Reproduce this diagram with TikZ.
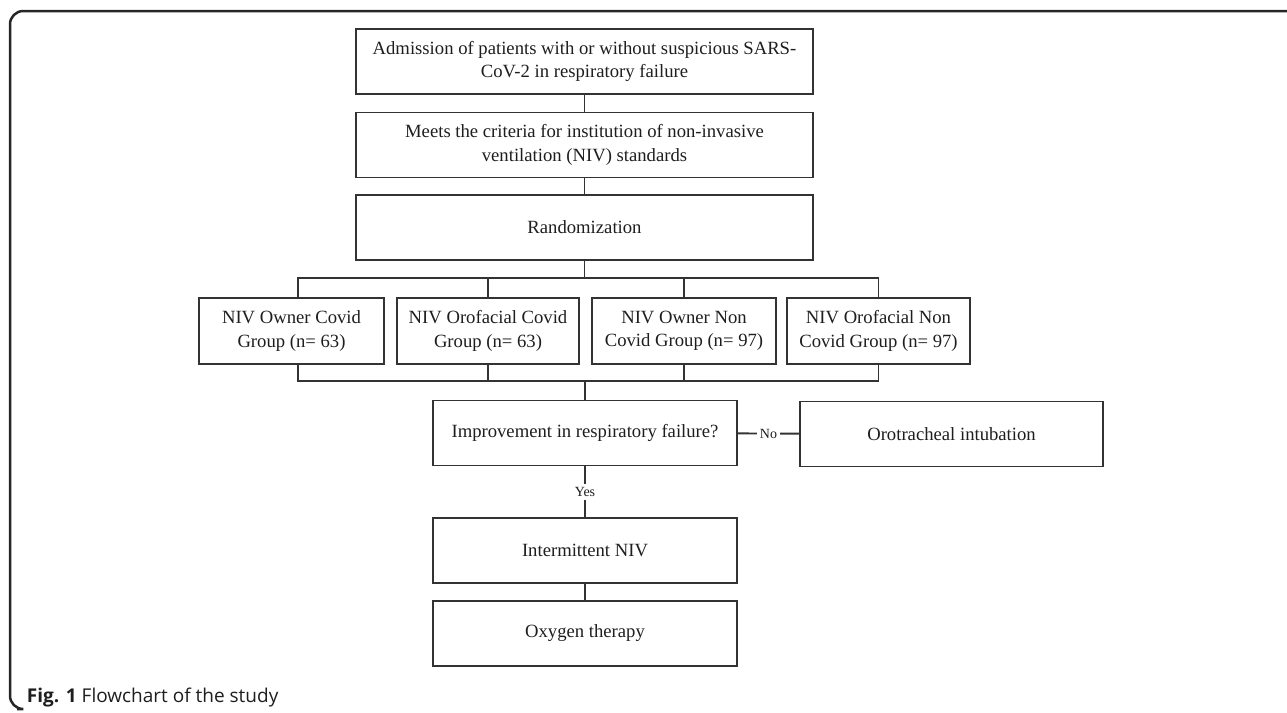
\documentclass[tikz,border=0pt]{standalone}
\usepackage{fontspec}
\setmainfont{Liberation Serif}
\newfontfamily\capfont{Open Sans}
\usetikzlibrary{calc}
\definecolor{boxline}{HTML}{333333}
\definecolor{ink}{HTML}{1E1E1E}

\begin{document}
\begin{tikzpicture}[x=0.6pt, y=-0.6pt, line width=1.15pt, draw=boxline, text=ink,
  every node/.style = {shape=rectangle, draw=boxline, line width=1.15pt, align=center, inner sep=0pt,
    font=\fontsize{11.2}{14}\selectfont},
  wide/.style = {minimum width=457*0.6pt, minimum height=65*0.6pt},
  grp/.style = {minimum width=184*0.6pt, minimum height=66*0.6pt},
  mid/.style = {minimum width=304*0.6pt, minimum height=65*0.6pt},
  lbl/.style = {draw=none, fill=white, inner sep=2pt, font=\fontsize{8.4}{10}\selectfont}]

  \useasboundingbox (0,0) rectangle (1287,712);

  \draw[line width=1.5pt, draw=black!85, rounded corners=8] (1290,11) -- (10,11) -- (10,709) -- (17,709);

  \node[wide] (adm) at (584.5,61.5) {Admission of patients with or without suspicious SARS-\\CoV-2 in respiratory failure};
  \node[wide] (crit) at (584.5,145) {Meets the criteria for institution of non-invasive\\ventilation (NIV) standards};
  \node[wide] (rand) at (584.5,227.5) {Randomization};

  \node[grp, minimum width=185*0.6pt] (grpA) at (291.5,331) {NIV Owner Covid\\Group (n= 63)};
  \node[grp, minimum width=182*0.6pt] (grpB) at (488,331) {NIV Orofacial Covid\\Group (n= 63)};
  \node[grp] (grpC) at (684,331) {NIV Owner Non\\Covid Group (n= 97)};
  \node[grp, minimum width=183*0.6pt] (grpD) at (878.5,331) {NIV Orofacial Non\\Covid Group (n= 97)};

  \node[mid] (impr) at (585,433) {Improvement in respiratory failure?};
  \node[mid, minimum width=303*0.6pt] (orot) at (951.5,434) {Orotracheal intubation};
  \node[mid] (inter) at (585,550.5) {Intermittent NIV};
  \node[mid] (oxy) at (585,633.5) {Oxygen therapy};

  \coordinate (topL) at (298,278);
  \coordinate (topR) at (878.5,278);
  \coordinate (botL) at (298,381);
  \coordinate (botR) at (878.5,381);

  \draw (adm) -- (crit);
  \draw (crit) -- (rand);
  \draw (rand.south) -- (rand.south |- topL);
  \draw (topL |- grpA.north) -- (topL) -- (topR) -- (grpD.north);
  \draw (grpB.north) -- (grpB.north |- topL);
  \draw (grpC.north) -- (grpC.north |- topL);

  \draw (topL |- grpA.south) -- (botL) -- (botR) -- (grpD.south);
  \draw (grpB.south) -- (grpB.south |- botL);
  \draw (grpC.south) -- (grpC.south |- botL);
  \draw (impr.north) -- (impr.north |- botL);

  \draw (impr) -- node[lbl] {No} (orot);
  \draw (impr) -- node[lbl] {Yes} (inter);
  \draw (inter) -- (oxy);

  \node[draw=none, anchor=base west, text=ink, font=\capfont\fontsize{11.4}{13}\selectfont] (cap) at (26,702)
    {\textbf{Fig. 1} Flowchart of the study};
\end{tikzpicture}
\end{document}
